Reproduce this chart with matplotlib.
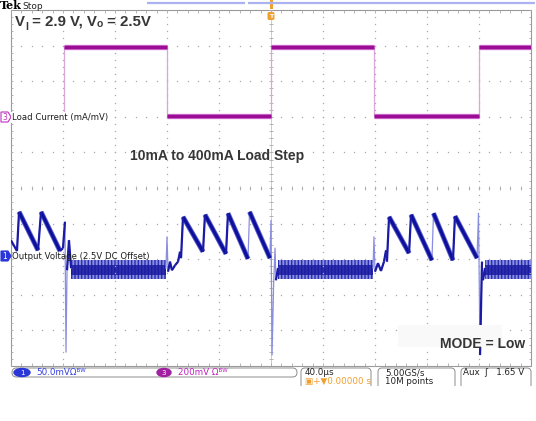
import numpy as np
import matplotlib.pyplot as plt
from matplotlib import font_manager
from matplotlib.collections import LineCollection
from matplotlib.patches import FancyBboxPatch, Polygon, Ellipse, Rectangle

W, H = 536, 421

# ---- values ----
# horizontal: 40 us/div, trigger at screen centre
time_per_div = 40.0

# CH3 load current (mA), 200 mA/div
ch3_scale = 200.0
ch3_zero_div = 1.97
step_edges_us = [-200.0, -159.2, -80.0, 0.0, 79.2, 160.0, 200.0]
step_levels_ma = [10, 400, 10, 400, 10, 400]

# CH1 output voltage (AC, mV), 50 mV/div, 2.5 V offset
ch1_scale = 50.0
ch1_zero_div = -1.91

# light load (PFM sawtooth) + load step transients
seg_a_us = [-200.0, -195.4, -193.8, -179.2, -176.9, -162.3, -160.0, -158.5,
            -157.7, -156.9, -155.4, -153.8]
seg_a_mv = [22, 7, 62, 8, 62, 7, 11, 48, -135, -20, 22, -17]

seg_b_us = [-80.8, -80.0, -79.2, -77.7, -76.2, -73.8, -71.5, -70.0, -69.2,
            -67.7, -52.3, -50.8, -34.6, -33.1, -17.7, -16.5, -0.8, 0.0, 0.8,
            2.0, 3.1, 3.8, 5.4]
seg_b_mv = [-17, 27, -22, -8, -20, -13, -8, 6, -3, 55, 6, 58, 3, 60, -4, 62,
            -3, 50, -139, -41, 11, -34, -17]

seg_c_us = [78.5, 79.2, 80.0, 82.3, 84.6, 86.9, 88.5, 89.2, 90.8, 106.2,
            107.7, 123.8, 125.0, 140.0, 141.5, 158.5, 159.6, 160.8, 162.3,
            163.1, 164.6]
seg_c_mv = [-17, 27, -22, -10, -21, -8, 8, -8, 55, 4, 58, -6, 60, -6, 56, -3,
            60, -139, -8, -34, -17]

# heavy load ripple band
band_start_us = [-153.8, 5.4, 164.6]
band_end_us = [-80.8, 78.5, 200.0]
band_outer_mv = [-5, -33]
band_core_mv = [-12, -27]

fig = plt.figure(figsize=(W / 100, H / 100), dpi=100)
fig.patch.set_facecolor('white')

# ---- graticule ----
ax = fig.add_axes([11 / W, 1 - 366 / H, 520 / W, 356 / H])
ax.set_xlim(-5 * time_per_div, 5 * time_per_div)
ax.set_ylim(-5, 5)
ax.axis('off')

grid_c = '#a9a9a9'
minor_x = np.arange(-200, 200.1, time_per_div / 5)
minor_y = np.arange(-5, 5.01, 0.2)
for d in range(-4, 5):
    if d == 0:
        continue
    ax.plot(minor_x, np.full_like(minor_x, d), ls='none', marker='s', ms=0.9,
            mew=0, color=grid_c)
    ax.plot(np.full_like(minor_y, d * time_per_div), minor_y, ls='none',
            marker='s', ms=0.9, mew=0, color=grid_c)
ax.plot(minor_x, np.zeros_like(minor_x), ls='none', marker='s', ms=0.9, mew=0,
        color=grid_c)
ax.axvline(0, color='#c4c4c4', lw=0.6)
ax.vlines(minor_x, -0.07, 0.07, color=grid_c, lw=0.6)
ax.hlines(minor_y, -1.3, 1.3, color=grid_c, lw=0.6)
ax.vlines(minor_x, -5, -4.92, color=grid_c, lw=0.6)
ax.vlines(minor_x, 4.92, 5, color=grid_c, lw=0.6)
ax.hlines(minor_y, -200, -198.6, color=grid_c, lw=0.6)
ax.hlines(minor_y, 198.6, 200, color=grid_c, lw=0.6)
ax.add_patch(Rectangle((-200, -5), 400, 10, fill=False, ec='#9a9a9a', lw=0.8,
                       clip_on=False))

# ---- CH3 load current ----
lv = np.array(step_levels_ma) / ch3_scale + ch3_zero_div
ed = np.array(step_edges_us)
ax.vlines(ed[1:-1], np.minimum(lv[:-1], lv[1:]), np.maximum(lv[:-1], lv[1:]),
          color='#d9a6d9', lw=0.9)
ax.hlines(lv, ed[:-1], ed[1:], color='#cf6fcf', lw=3.8)
ax.hlines(lv, ed[:-1], ed[1:], color='#9c0d96', lw=2.4)

# ---- CH1 output voltage ----
def to_div(mv):
    return np.asarray(mv, dtype=float) / ch1_scale + ch1_zero_div

for t0, t1 in zip(band_start_us, band_end_us):
    ax.fill_between([t0, t1], to_div(band_outer_mv[0]), to_div(band_outer_mv[1]),
                    facecolor='#8a8edc', edgecolor='#2a2fb4', hatch='|||||',
                    lw=0)
    ax.fill_between([t0, t1], to_div(band_core_mv[0]), to_div(band_core_mv[1]),
                    facecolor='#16169e', lw=0, alpha=0.8)

for ts, vs in [(seg_a_us, seg_a_mv), (seg_b_us, seg_b_mv), (seg_c_us, seg_c_mv)]:
    ts = np.array(ts)
    ys = to_div(vs)
    ax.plot(ts, ys, color='#8a8ede', lw=0.9)
    pts = np.column_stack([ts, ys])
    segs = np.stack([pts[:-1], pts[1:]], axis=1)
    slow = np.diff(ts) >= 5
    ax.add_collection(LineCollection(segs[slow], colors='#5a5fcc', linewidths=3.6))
    ax.add_collection(LineCollection(segs[slow], colors='#0e109c', linewidths=2.3))
    mid = (np.diff(ts) >= 1.4) & ~slow
    ax.add_collection(LineCollection(segs[mid], colors='#1a1aa6', linewidths=1.6))

# ---- overlay in pixel coordinates ----
ov = fig.add_axes([0, 0, 1, 1], zorder=5)
ov.set_xlim(0, W)
ov.set_ylim(H, 0)
ov.axis('off')
ov.patch.set_alpha(0)

names = {f.name for f in font_manager.fontManager.ttflist}
if 'Liberation Sans Narrow' in names:
    head_font, head_size, sub_size = 'Liberation Sans Narrow', 13, 9
else:
    head_font, head_size, sub_size = 'Liberation Sans', 10.8, 7.5

txt_c = '#363636'
r = fig.canvas.get_renderer()
x = 15
for s, size, dy in [('V', head_size, 0), ('I', sub_size, 4), (' = 2.9 V, V', head_size, 0),
                    ('o', sub_size, 1), (' = 2.5V', head_size, 0)]:
    t = ov.text(x, 26 + dy, s, fontsize=size, family=head_font, weight='bold',
                color=txt_c, va='baseline', ha='left')
    x = t.get_window_extent(r).x1

ov.text(130, 160, '10mA to 400mA Load Step', fontsize=10, family='Liberation Sans',
        weight='bold', color=txt_c, va='baseline', ha='left')
ov.add_patch(Rectangle((398, 325), 104, 22, color='#f9f9f9', lw=0, zorder=0))
ov.text(440, 348, 'MODE = Low', fontsize=10, family='Liberation Sans',
        weight='bold', color=txt_c, va='baseline', ha='left')

# header
ov.text(0, 9, 'Tek', fontsize=8, family='DejaVu Serif', weight='bold',
        color='black', va='baseline')
ov.text(22, 9, 'Stop', fontsize=6.5, family='DejaVu Sans', color='#222222',
        va='baseline')
ov.plot([147, 245], [3, 3], color='#aab3ef', lw=1.6, solid_capstyle='butt')
ov.plot([248, 535], [3, 3], color='#aab3ef', lw=1.6, solid_capstyle='butt')
ov.add_patch(Rectangle((269.5, 0), 3, 9, color='#f0a030', lw=0))
ov.add_patch(FancyBboxPatch((268, 12.5), 6, 7, boxstyle='round,pad=0.5,rounding_size=1.5',
                            color='#f0a030', lw=0))
ov.text(271, 16.5, 'T', fontsize=4.5, color='white', weight='bold', ha='center',
        va='center')

# channel markers and labels
ov.add_patch(Polygon([[1, 112], [8, 112], [11, 117], [8, 122], [1, 122]],
                     closed=True, fc='white', ec='#c030c0', lw=0.8))
ov.text(5, 117.5, '3', fontsize=5.5, color='#c030c0', ha='center', va='center')
ov.text(12, 117.5, 'Load Current (mA/mV)', fontsize=6.1, family='DejaVu Sans',
        color='#1e1e1e', va='center', ha='left',
        bbox=dict(fc='white', ec='none', pad=0.6))
ov.add_patch(Polygon([[1, 251], [8, 251], [11, 256], [8, 261], [1, 261]],
                     closed=True, fc='#2a36d8', ec='#2a36d8', lw=0.8))
ov.text(5, 256.5, '1', fontsize=5.5, color='white', ha='center', va='center')
ov.text(12, 256.5, 'Output Voltage (2.5V DC Offset)', fontsize=6.1,
        family='DejaVu Sans', color='#1e1e1e', va='center', ha='left')

# status bar
box_c = '#8c8c8c'
ov.add_patch(FancyBboxPatch((12, 368), 285, 9, boxstyle='round,pad=0,rounding_size=4.5',
                            fc='white', ec=box_c, lw=0.7))
for x0, x1 in [(301, 371), (378, 455), (461, 531)]:
    ov.add_patch(FancyBboxPatch((x0, 368), x1 - x0, 24,
                                boxstyle='round,pad=0,rounding_size=4',
                                fc='white', ec=box_c, lw=0.7))
ov.add_patch(Rectangle((290, 386), 246, 35, color='white', lw=0, zorder=3))
ov.add_patch(Ellipse((22, 372.5), 16, 8, color='#2a36d8'))
ov.text(22, 372.8, '1', fontsize=5, color='white', ha='center', va='center')
ov.text(36, 372.8, '50.0mV\u03a9\u1d2e\u1d42', fontsize=6.3, color='#3340e0',
        va='center')
ov.add_patch(Ellipse((164, 372.5), 14, 8, color='#a020a0'))
ov.text(164, 372.8, '3', fontsize=5, color='white', ha='center', va='center')
ov.text(178, 372.8, '200mV \u03a9\u1d2e\u1d42', fontsize=6.3, color='#c020c0',
        va='center')
ov.text(305, 372.8, '40.0\u00b5s', fontsize=6.3, color='#222222', va='center')
ov.text(305, 381.5, '\u25a3+\u25bc0.00000 s', fontsize=6.3, color='#f0a030',
        va='center')
ov.text(385, 372.8, '5.00GS/s', fontsize=6.3, color='#222222', va='center')
ov.text(385, 381.5, '10M points', fontsize=6.3, color='#222222', va='center')
ov.text(463, 372.8, 'Aux  \u0283   1.65 V', fontsize=6.3, color='#222222',
        va='center')

fig.savefig('out.png', dpi=100, facecolor='white')
